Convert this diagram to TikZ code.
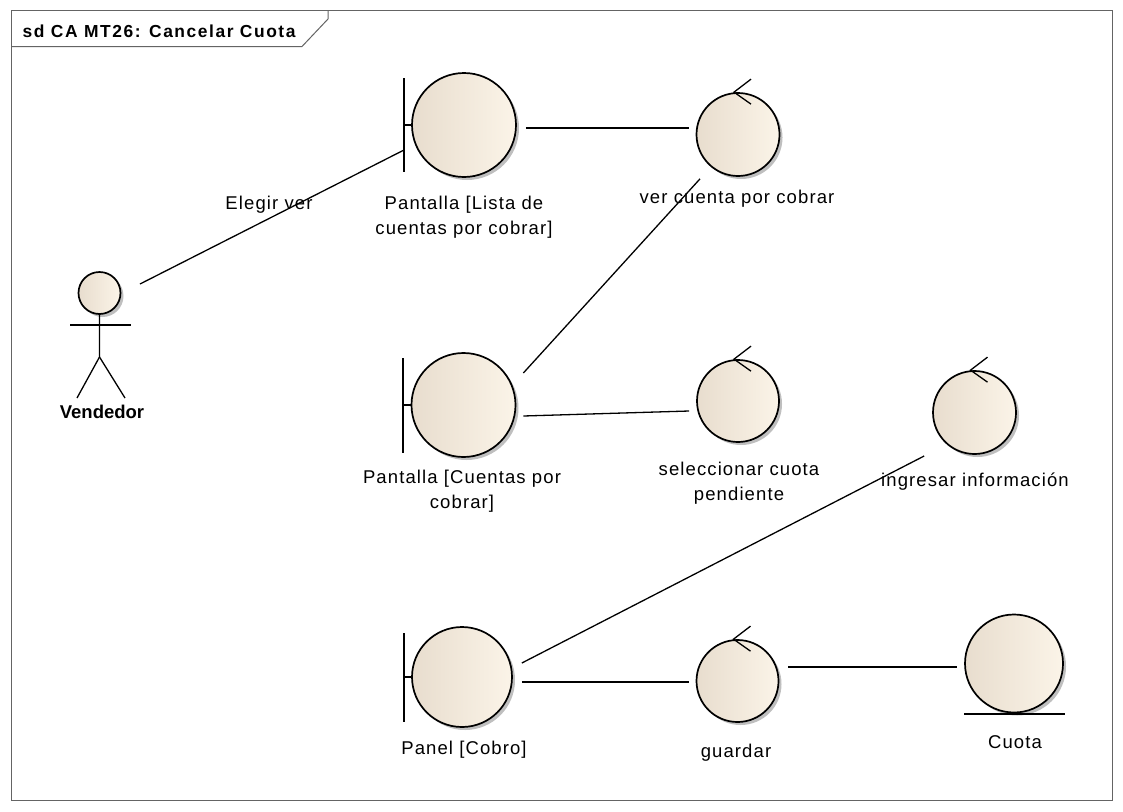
\documentclass[tikz,border=0pt]{standalone}
\usepackage{fontspec}
\setmainfont{Liberation Sans}
\newfontfamily\lblfont[LetterSpace=6]{Liberation Sans}
\newfontfamily\ttlfont[LetterSpace=9]{Liberation Sans}
\usetikzlibrary{shadows,calc}
\definecolor{fillL}{RGB}{232,221,206}
\definecolor{fillR}{RGB}{251,244,232}
\definecolor{framec}{RGB}{100,100,100}
\begin{document}
\begin{tikzpicture}[x=1pt,y=-1pt,
  ln/.style={line width=1.3pt,black},
  frm/.style={line width=1pt,framec},
  circ/.style={circle,draw=black,line width=1.7pt,inner sep=0pt,left color=fillL,right color=fillR,
     drop shadow={shadow xshift=3pt,shadow yshift=-3pt,fill=black,opacity=0.25}},
  lbl/.style={font=\lblfont\fontsize{18.5}{25}\selectfont,inner sep=0pt,align=center,anchor=base},
  bld/.style={font=\bfseries\fontsize{18.5}{25}\selectfont,inner sep=0pt,anchor=base},
  ttl/.style={font=\ttlfont\bfseries\fontsize{17.4}{20}\selectfont,inner sep=0pt,anchor=base west}]
\useasboundingbox (0,0) rectangle (1123,811);
\fill[white] (0,0) rectangle (1123,811);
% frame
\draw[frm] (11,10) rectangle (1112,800);
\draw[frm] (11,46.5) -- (302,46.5) -- (328,19) -- (328,10);
\node[ttl] (title) at (22.5,37.5) {sd CA MT26: Cancelar Cuota};

% actor
\node[circ,minimum size=42pt] (head) at (99.5,293) {};
\coordinate (hip) at (99.5,357);
\coordinate (armL) at (70,325);
\coordinate (armR) at (131,325);
\coordinate (legL) at (77,398);
\coordinate (legR) at (125,398);
\draw[ln] (head.south) -- (hip) -- (legL);
\draw[ln] (hip) -- (legR);
\draw[ln] (armL) -- (armR);
\node[bld] (vendedor) at (102,418) {Vendedor};

% boundaries
\node[circ,minimum size=104pt] (b1) at (464,125) {};
\draw[ln] (404,78) -- (404,172);
\draw[ln] (404,125) -- (b1.west);
\node[lbl] (b1l) at (464,234) {Pantalla [Lista de\\cuentas por cobrar]};

\node[circ,minimum size=104pt] (b2) at (463.5,405) {};
\draw[ln] (403,358) -- (403,453);
\draw[ln] (403,405) -- (b2.west);
\node[lbl] (b2l) at (462,508) {Pantalla [Cuentas por\\cobrar]};

\node[circ,minimum size=100pt] (b3) at (462,677) {};
\draw[ln] (404,633) -- (404,722);
\draw[ln] (404,677) -- (b3.west);
\node[lbl] (b3l) at (464,754) {Panel [Cobro]};

% controls
\newcommand\ctrlarrow[1]{\draw[ln] ($(#1.north)+(13,-13)$) -- ($(#1.north)+(-4,0)$) -- ($(#1.north)+(13,12)$);}
\node[circ,minimum size=83pt] (c1) at (738,134.5) {};
\ctrlarrow{c1}
\node[lbl] (c1l) at (737,203) {ver cuenta por cobrar};

\node[circ,minimum size=82pt] (c2) at (738,401) {};
\ctrlarrow{c2}
\node[lbl] (c2l) at (739,500) {seleccionar cuota\\pendiente};

\node[circ,minimum size=83pt] (c3) at (974.5,412.5) {};
\ctrlarrow{c3}
\node[lbl] (c3l) at (975,486) {ingresar información};

\node[circ,minimum size=82pt] (c4) at (737.5,681) {};
\ctrlarrow{c4}
\node[lbl] (c4l) at (736,757) {guardar};

% entity
\node[circ,minimum size=98pt] (e1) at (1014,663.5) {};
\draw[ln] (964,714) -- (1065,714);
\node[lbl] (e1l) at (1015,748) {Cuota};

% connectors
\coordinate (a1s) at (140,284);
\coordinate (a1e) at (404,150);
\draw[ln] (a1s) -- (a1e);
\node[lbl] (elegir) at (269,209) {Elegir ver};
\draw[ln] ($(b1.east)+(9,3)$) -- ($(c1.west)+(-7,-6.5)$);
\draw[ln] ($(b2.east)+(7,-32)$) -- ($(c1.south)+(-38,2)$);
\draw[ln] ($(b2.east)+(7,11)$) -- ($(c2.west)+(-7,10)$);
\draw[ln] ($(b3.east)+(9,-14)$) -- ($(c3.west)+(-8,43.5)$);
\draw[ln] ($(b3.east)+(9,5)$) -- ($(c4.west)+(-6.5,1)$);
\draw[ln] ($(c4.east)+(9,-14)$) -- ($(e1.west)+(-7,3.5)$);
\end{tikzpicture}
\end{document}
